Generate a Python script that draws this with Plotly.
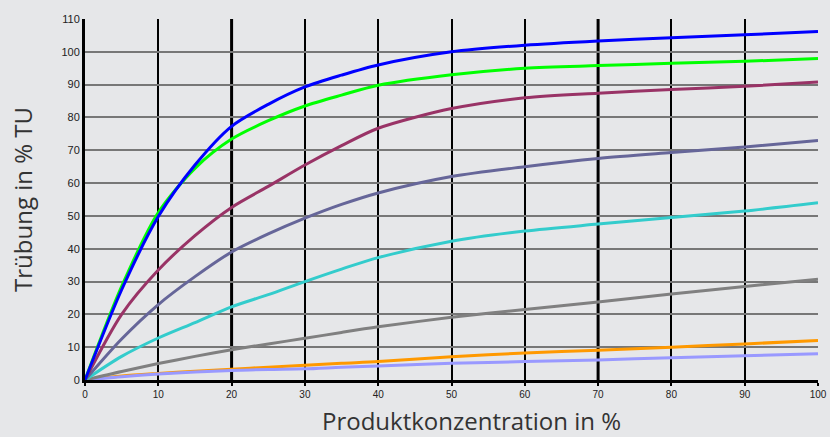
import plotly.graph_objects as go

x_vals = [0, 5, 10, 15, 20, 25, 30, 35, 40, 50, 60, 70, 80, 90, 100]

blue = [0, 27.5, 49.8, 65.5, 77.3, 84, 89.3, 92.9, 96, 100, 102, 103.3, 104.3, 105.2, 106.2]
green = [0, 28.5, 51, 64.5, 73.4, 79, 83.5, 86.8, 89.8, 93, 95, 95.8, 96.5, 97.1, 98]
maroon = [0, 20, 33.5, 44, 52.6, 59, 65.5, 71.4, 76.7, 82.7, 86, 87.4, 88.5, 89.5, 90.8]
slate = [0, 12.5, 23, 31.5, 39, 44.5, 49.3, 53.5, 57, 62, 65, 67.5, 69.3, 71, 73]
cyan = [0, 7.2, 12.8, 17.5, 22.3, 26, 30, 33.8, 37.3, 42.3, 45.4, 47.5, 49.5, 51.5, 54]
gray = [0, 2.6, 5, 7.2, 9.2, 11, 12.7, 14.5, 16.2, 19.1, 21.5, 23.8, 26.2, 28.5, 30.7]
orange = [0, 1.2, 2, 2.7, 3.3, 3.9, 4.5, 5.1, 5.6, 7.1, 8.2, 9.1, 10, 11, 12]
lavender = [0, 1, 1.8, 2.4, 2.9, 3.2, 3.4, 3.9, 4.3, 5.1, 5.6, 6.1, 6.8, 7.4, 8]

x_ticks = list(range(0, 101, 10))
y_ticks = list(range(0, 111, 10))
bold_x_lines = [20, 70]

x_title = "Produktkonzentration in %"
y_title = "Trübung in % TU"

series = [
    ("orange", orange, "#ff9900"),
    ("lavender", lavender, "#9999ff"),
    ("gray", gray, "#808080"),
    ("cyan", cyan, "#33cccc"),
    ("slate", slate, "#666699"),
    ("maroon", maroon, "#993366"),
    ("green", green, "#00ff00"),
    ("blue", blue, "#0000ff"),
]

fig = go.Figure()
for name, ys, col in series:
    fig.add_trace(go.Scatter(
        x=x_vals, y=ys, mode="lines", name=name,
        line=dict(color=col, width=3, shape="spline", smoothing=0.8),
        showlegend=False, hoverinfo="skip",
    ))

for xv in bold_x_lines:
    fig.add_shape(type="line", xref="x", yref="paper", x0=xv, x1=xv, y0=0, y1=1,
                  line=dict(color="black", width=3), layer="below")

bg = "#e6e7e9"
fig.update_layout(
    width=830, height=437,
    margin=dict(l=85, r=12, t=19, b=57),
    paper_bgcolor=bg, plot_bgcolor=bg,
    font=dict(family="Liberation Sans, Arial, sans-serif", color="#222222", size=11),
)
fig.add_annotation(
    text=x_title, xref="paper", yref="paper", x=0.527, y=-0.113,
    xanchor="center", yanchor="middle", showarrow=False,
    font=dict(family="Open Sans", size=24, color="#333333"),
)
fig.update_xaxes(
    range=[0, 100], tickvals=x_ticks, ticktext=[str(v) for v in x_ticks],
    showgrid=True, gridcolor="black", gridwidth=1.5,
    showline=True, linecolor="black", linewidth=3,
    ticks="outside", ticklen=3, tickwidth=1.5, tickcolor="black",
    zeroline=False, tickfont=dict(size=10, color="#222222"), automargin=False,
)
fig.update_yaxes(
    range=[0, 110], tickvals=y_ticks, ticktext=[str(v) for v in y_ticks],
    showgrid=True, gridcolor="#777777", gridwidth=1.5,
    showline=True, linecolor="black", linewidth=3,
    ticks="", zeroline=False, tickfont=dict(size=11, color="#222222"), automargin=False,
    title=dict(text=y_title, font=dict(family="Open Sans", size=24, color="#333333"), standoff=23),
)

fig.write_html(
    "out.html",
    config={"displayModeBar": False},
    post_script="document.body.style.margin='0';document.body.style.padding='0';document.body.style.background='#e6e7e9';",
)
